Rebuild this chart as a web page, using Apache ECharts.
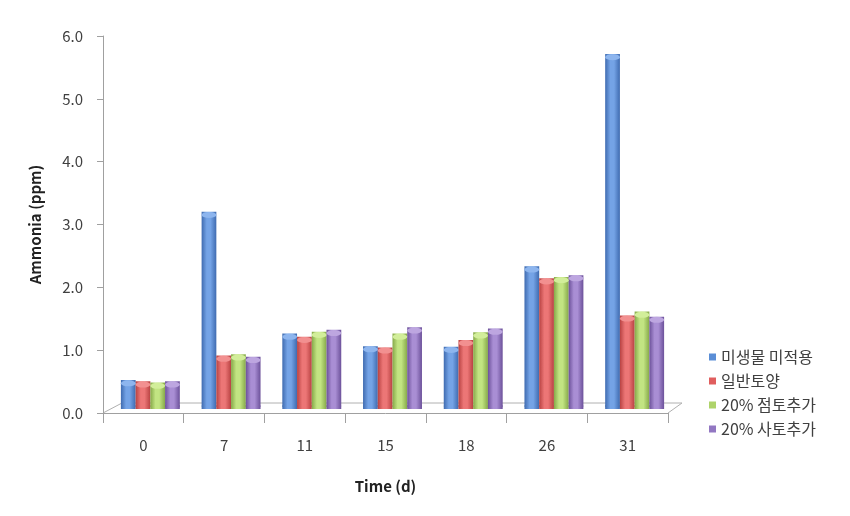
<!DOCTYPE html>
<html>
<head>
<meta charset="utf-8">
<script src="https://cdn.jsdelivr.net/npm/echarts@6/dist/echarts.min.js"></script>
<style>
html,body{margin:0;padding:0;background:#fff;}
#chart{width:850px;height:516px;}
</style>
</head>
<body>
<div id="chart"></div>
<script>
const categories = ['0', '7', '11', '15', '18', '26', '31'];
const seriesNames = ['미생물 미적용', '일반토양', '20% 점토추가', '20% 사토추가'];
const blueValues = [0.46, 3.14, 1.20, 1.00, 0.99, 2.27, 5.65];
const redValues = [0.44, 0.85, 1.15, 0.98, 1.10, 2.08, 1.49];
const greenValues = [0.42, 0.87, 1.23, 1.20, 1.22, 2.10, 1.55];
const purpleValues = [0.44, 0.83, 1.26, 1.30, 1.28, 2.13, 1.47];
const yTicks = [0, 1, 2, 3, 4, 5, 6];

const allValues = [blueValues, redValues, greenValues, purpleValues];
const palette = [
  {edge: '#3F6BB0', mid: '#74A3E6', cap: '#8DB5EE', legend: '#5B8ED6'},
  {edge: '#B84242', mid: '#EC7676', cap: '#F29090', legend: '#E05E5E'},
  {edge: '#86A949', mid: '#C2E482', cap: '#D2EE9A', legend: '#AED36A'},
  {edge: '#6C519A', mid: '#A98ED4', cap: '#BDA6E0', legend: '#9277C2'}
];
const FONT = '"Noto Sans CJK KR", "Noto Sans", sans-serif';

function grad(p) {
  return {type: 'linear', x: 0, y: 0, x2: 1, y2: 0, colorStops: [
    {offset: 0, color: p.edge}, {offset: 0.35, color: p.mid}, {offset: 0.6, color: p.mid}, {offset: 1, color: p.edge}
  ]};
}

const series = [];
allValues.forEach((vals, i) => {
  series.push({
    name: seriesNames[i], type: 'bar', xAxisIndex: 1, yAxisIndex: 1,
    data: vals, barGap: '0%', barCategoryGap: '27%',
    itemStyle: {color: grad(palette[i])}, z: 2
  });
});
// bottom caps (own category axis so the layout matches the bars)
allValues.forEach((vals, i) => {
  series.push({
    name: seriesNames[i], type: 'pictorialBar', xAxisIndex: 2, yAxisIndex: 1,
    data: vals, barGap: '0%', barCategoryGap: '27%',
    symbol: 'circle', symbolSize: ['100%', 6], symbolPosition: 'start',
    itemStyle: {color: grad(palette[i])}, z: 1
  });
});
// top caps
allValues.forEach((vals, i) => {
  series.push({
    name: seriesNames[i], type: 'pictorialBar', xAxisIndex: 1, yAxisIndex: 1,
    data: vals, barGap: '0%', barCategoryGap: '27%',
    symbol: 'circle', symbolSize: ['100%', 6], symbolPosition: 'end',
    itemStyle: {color: palette[i].cap, borderColor: palette[i].edge, borderWidth: 0.6}, z: 3
  });
});

const chart = echarts.init(document.getElementById('chart'), null, {renderer: 'canvas'});
chart.setOption({
  animation: false,
  backgroundColor: '#ffffff',
  textStyle: {fontFamily: FONT},
  legend: {
    orient: 'vertical', left: 704, top: 344, itemGap: 8,
    itemWidth: 7, itemHeight: 7, icon: 'rect',
    data: seriesNames.map((n, i) => ({name: n, itemStyle: {color: palette[i].legend}})),
    textStyle: {fontSize: 16, color: '#404040', fontFamily: FONT}
  },
  grid: [
    {left: 103, right: 182, top: 36, bottom: 103},
    {left: 110, right: 175, top: 32, bottom: 107}
  ],
  xAxis: [
    {
      type: 'category', gridIndex: 0, data: categories, boundaryGap: true,
      name: 'Time (d)', nameLocation: 'middle', nameGap: 66,
      nameTextStyle: {fontSize: 15, fontWeight: 'bold', color: '#222', fontFamily: FONT},
      axisLine: {lineStyle: {color: '#a0a0a0', width: 1}},
      axisTick: {show: true, length: 10, lineStyle: {color: '#a0a0a0'}},
      axisLabel: {fontSize: 15, color: '#404040', margin: 25, fontFamily: FONT}
    },
    {type: 'category', gridIndex: 1, data: categories, show: false},
    {type: 'category', gridIndex: 1, data: categories, show: false}
  ],
  yAxis: [
    {
      type: 'value', gridIndex: 0, min: 0, max: 6, interval: 1,
      name: 'Ammonia (ppm)', nameLocation: 'middle', nameGap: 60, nameRotate: 90,
      nameTextStyle: {fontSize: 15, fontWeight: 'bold', color: '#222', fontFamily: FONT},
      axisLine: {show: true, lineStyle: {color: '#a0a0a0', width: 1}},
      axisTick: {show: true, length: 6, lineStyle: {color: '#a0a0a0'}},
      splitLine: {show: false},
      axisLabel: {fontSize: 15, color: '#404040', margin: 20, fontFamily: FONT,
        formatter: v => yTicks.includes(v) ? v.toFixed(1) : ''}
    },
    {
      type: 'value', gridIndex: 1, min: 0, max: 6, interval: 1, show: false,
      splitLine: {show: false}
    }
  ],
  series: series
});

// 3D floor outline (decoration) derived from grid geometry
const gridRect = chart.getModel().getComponent('grid', 0).coordinateSystem.getRect();
const fx0 = gridRect.x, fx1 = gridRect.x + gridRect.width, fy = gridRect.y + gridRect.height;
chart.setOption({
  graphic: [{
    type: 'polyline', silent: true, z: 0,
    shape: {points: [[fx0, fy], [fx0 + 19, fy - 10], [fx1 + 14, fy - 10], [fx1, fy]]},
    style: {stroke: '#b0b0b0', lineWidth: 1, fill: null}
  }]
});
</script>
</body>
</html>
